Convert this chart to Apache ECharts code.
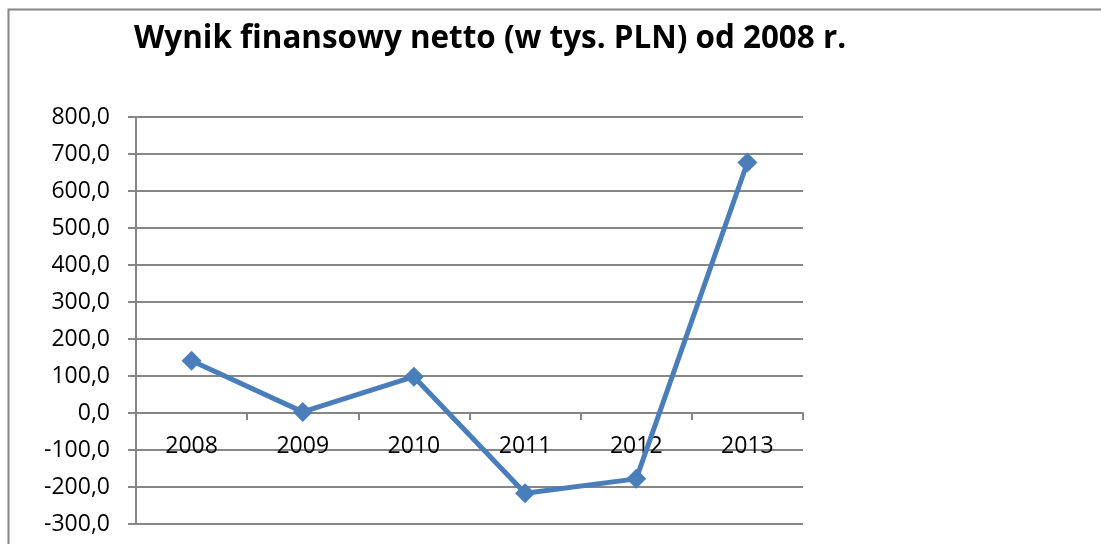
<!DOCTYPE html>
<html>
<head>
<meta charset="utf-8">
<script src="https://cdn.jsdelivr.net/npm/echarts@6/dist/echarts.min.js"></script>
<style>
html,body{margin:0;padding:0;background:#fff;}
#c{width:1101px;height:544px;}
</style>
</head>
<body>
<div id="c"></div>
<script>
const titleText = 'Wynik finansowy netto (w tys. PLN) od 2008 r.';
const categories = ['2008', '2009', '2010', '2011', '2012', '2013'];
const values = [141, 3, 98, -217, -178, 677];
const yMin = -300, yMax = 800, yStep = 100;

const chart = echarts.init(document.getElementById('c'), null, {renderer: 'canvas'});
const gray = '#868686';
const font = 'Open Sans';
chart.setOption({
  animation: false,
  backgroundColor: '#fff',
  title: {
    text: titleText,
    left: 129,
    top: 19,
    textStyle: {fontFamily: font, fontWeight: 'bold', fontSize: 31.4, color: '#000'}
  },
  graphic: [{
    type: 'rect',
    shape: {x: 8.5, y: 9.5, width: 1200, height: 700},
    style: {fill: 'none', stroke: gray, lineWidth: 2},
    silent: true
  }],
  grid: {left: 136, right: 298, top: 117, bottom: 20, containLabel: false, outerBoundsMode: 'none'},
  xAxis: {
    type: 'category',
    data: categories,
    boundaryGap: true,
    axisLine: {show: true, onZero: false, lineStyle: {color: gray, width: 2}},
    axisTick: {show: true, length: 7, alignWithLabel: false, lineStyle: {color: gray, width: 2}},
    axisLabel: {margin: 22, color: '#000', fontFamily: font, fontSize: 23},
    splitLine: {show: false}
  },
  yAxis: {
    type: 'value',
    min: yMin, max: yMax, interval: yStep,
    axisLine: {show: true, lineStyle: {color: gray, width: 2}},
    axisTick: {show: true, length: 8, lineStyle: {color: gray, width: 2}},
    axisLabel: {
      margin: 26, color: '#000', fontFamily: font, fontSize: 23,
      formatter: v => v.toFixed(1).replace('.', ',')
    },
    splitLine: {show: true, lineStyle: {color: gray, width: 2}}
  },
  series: [{
    type: 'line',
    data: values,
    symbol: 'diamond',
    symbolSize: 20,
    showSymbol: true,
    lineStyle: {color: '#4a7ebb', width: 5},
    itemStyle: {color: '#4a7ebb'}
  }]
});
// move the category axis (line, ticks and labels) up to the value-axis zero
const zeroY = chart.convertToPixel({yAxisIndex: 0}, 0);
const bottomY = chart.convertToPixel({yAxisIndex: 0}, yMin);
chart.setOption({xAxis: {offset: -(bottomY - zeroY)}});
</script>
</body>
</html>
